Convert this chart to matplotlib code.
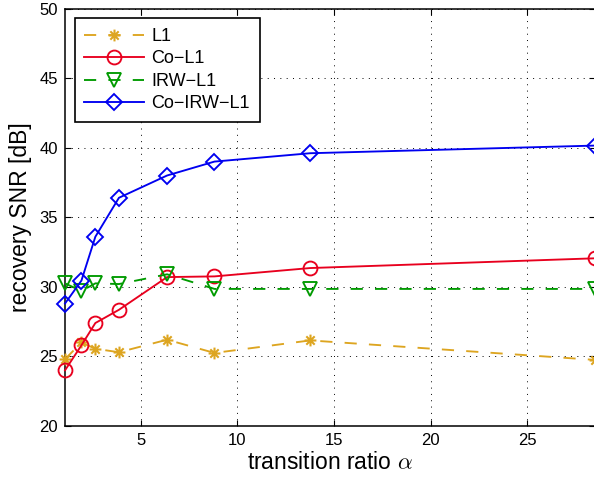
import numpy as np
import matplotlib
matplotlib.use('Agg')
import matplotlib.pyplot as plt
from matplotlib.path import Path

plt.rcParams['font.family'] = ['Liberation Sans', 'DejaVu Sans']
plt.rcParams['mathtext.fontset'] = 'cm'

# transition ratio alpha
alpha = [1.09, 1.94, 2.66, 3.88, 6.37, 8.82, 13.77, 28.5]

snr_l1 = [24.8, 26.0, 25.55, 25.3, 26.2, 25.25, 26.15, 24.75]
snr_co_l1 = [24.0, 25.8, 27.4, 28.35, 30.7, 30.75, 31.35, 32.05]
snr_irw_l1 = [30.25, 29.7, 30.25, 30.2, 30.9, 29.85, 29.85, 29.85]
snr_co_irw_l1 = [28.8, 30.45, 33.6, 36.4, 38.0, 39.0, 39.6, 40.15]

labels = ['L1', 'Co\u2212L1', 'IRW\u2212L1', 'Co\u2212IRW\u2212L1']

# MATLAB style asterisk: + and x on top of each other
d = 0.7071
star = Path([(-1, 0), (1, 0), (0, -1), (0, 1), (-d, -d), (d, d), (-d, d), (d, -d)],
            [Path.MOVETO, Path.LINETO] * 4)

fig = plt.figure(figsize=(5.94, 4.8), dpi=100)
ax = fig.add_axes([65 / 594, 54 / 480, 530 / 594, 417.5 / 480])

lw = 1.35
ax.plot(alpha, snr_l1, color='#DDA520', lw=lw, dashes=(6.5, 6.5), marker=star,
        ms=8.5, mew=1.5, mfc='none', label=labels[0], clip_on=False, zorder=3)
ax.plot(alpha, snr_co_l1, color='#E8001E', lw=lw, marker='o', ms=10, mew=1.35,
        mfc='none', label=labels[1], clip_on=False, zorder=3)
ax.plot(alpha, snr_irw_l1, color='#009A00', lw=lw, dashes=(6.5, 6.5), marker='v',
        ms=10.5, mew=1.35, mfc='none', label=labels[2], clip_on=False, zorder=3)
ax.plot(alpha, snr_co_irw_l1, color='#0000F0', lw=lw, marker='D', ms=8, mew=1.35,
        mfc='none', label=labels[3], clip_on=False, zorder=3)

ax.set_xlim(1.09, 28.5)
ax.set_ylim(20, 50)
ax.set_xticks([5, 10, 15, 20, 25])
ax.set_yticks([20, 25, 30, 35, 40, 45, 50])
ax.tick_params(direction='in', length=4, width=0.8, labelsize=12,
               top=True, right=True, pad=5)
ax.grid(True, color='black', linestyle=(0, (1, 5.5)), linewidth=0.7)
for s in ax.spines.values():
    s.set_linewidth(1.1)

ax.set_xlabel(r'transition ratio $\alpha$', fontsize=16.5, labelpad=2)
ax.set_ylabel('recovery SNR [dB]', fontsize=16.5, labelpad=5)

leg = ax.legend(loc='upper left', fontsize=13, handlelength=3.3, numpoints=1,
                labelspacing=0.3, borderpad=0.55, handletextpad=0.4,
                borderaxespad=0, fancybox=False, framealpha=1, edgecolor='black',
                bbox_to_anchor=(0.018, 0.977))
leg.get_frame().set_linewidth(1.2)

fig.savefig('out.png', dpi=100)
